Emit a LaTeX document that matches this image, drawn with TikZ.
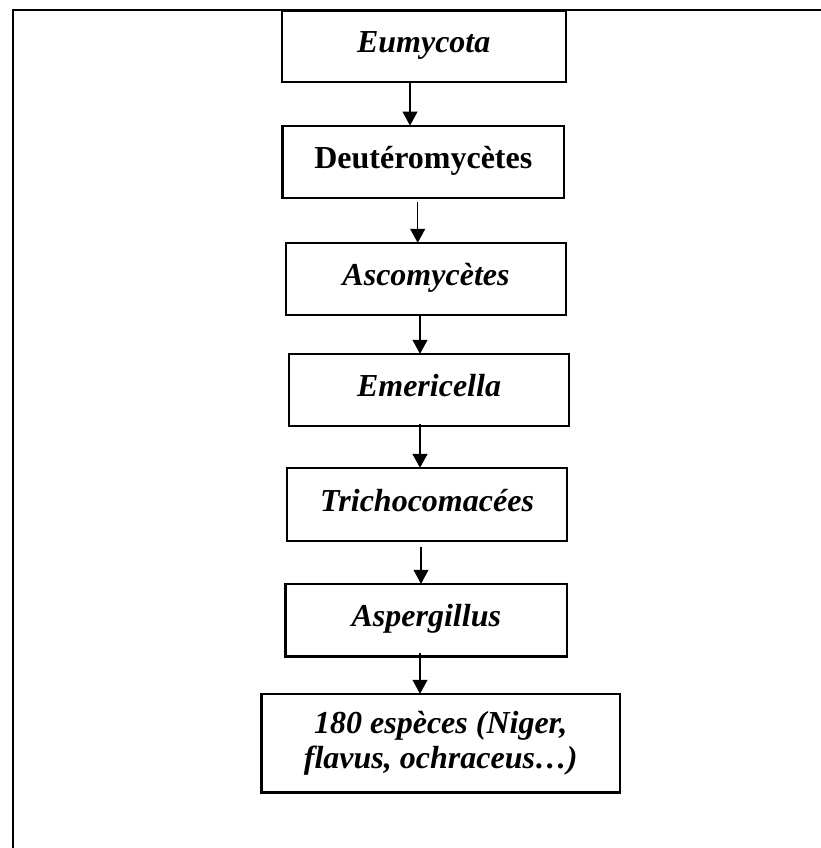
\documentclass[tikz,border=0pt]{standalone}
\usepackage{fontspec}
\setmainfont{Liberation Serif}
\usetikzlibrary{arrows.meta}
\tikzset{
  box/.style={draw, line width=2.4pt, inner sep=0pt, font=\fontsize{32}{35}\selectfont\bfseries\itshape, text height=22pt, text depth=9pt},
  arr/.style={line width=1.1pt, -{Triangle[width=15pt,length=14pt]}},
  frame/.style={line width=2.2pt}
}
\begin{document}
\begin{tikzpicture}[x=1pt,y=-1pt]
\useasboundingbox (0,0) rectangle (821,848);
\coordinate (ftl) at (13,10);
\coordinate (ftr) at (821,10);
\coordinate (fbl) at (13,848);
\draw[frame] (fbl) -- (ftl) -- (ftr);
\node[box, minimum width=284pt, minimum height=71.7pt] (eum) at (423.7,46.2) {Eumycota};
\node[box, minimum width=281.3pt, minimum height=72.3pt, font=\fontsize{32}{35}\selectfont\bfseries] (deu) at (423.3,161.9) {Deutéromycètes};
\node[box, minimum width=280pt, minimum height=72pt] (asc) at (426,279) {Ascomycètes};
\node[box, minimum width=280pt, minimum height=72pt] (eme) at (429,390) {Emericella};
\node[box, minimum width=280pt, minimum height=73pt] (tri) at (427,504.5) {Trichocomacées};
\node[box, minimum width=281.5pt, minimum height=72.5pt] (asp) at (426.3,620.2) {Aspergillus};
\node[box, minimum width=358.3pt, minimum height=98.7pt, align=center, text height=, text depth=] (sp) at (440.8,743.3) {180 espèces (Niger,\\flavus, ochraceus…)};
\draw[arr] ([xshift=-13.7pt]eum.south) -- ([xshift=-13.3pt,yshift=-1pt]deu.north);
\draw[arr] ([xshift=-5.6pt,yshift=-2.7pt]deu.south) -- ([xshift=-8.3pt,yshift=-1pt]asc.north);
\draw[arr] ([xshift=-6pt]asc.south) -- ([xshift=-9pt,yshift=-1pt]eme.north);
\draw[arr] ([xshift=-9pt,yshift=3pt]eme.south) -- ([xshift=-7pt,yshift=-1pt]tri.north);
\draw[arr] ([xshift=-6pt,yshift=-5pt]tri.south) -- ([xshift=-5.3pt,yshift=-1pt]asp.north);
\draw[arr] ([xshift=-6.3pt,yshift=4.5pt]asp.south) -- ([xshift=-20.8pt,yshift=-1pt]sp.north);
\end{tikzpicture}
\end{document}
